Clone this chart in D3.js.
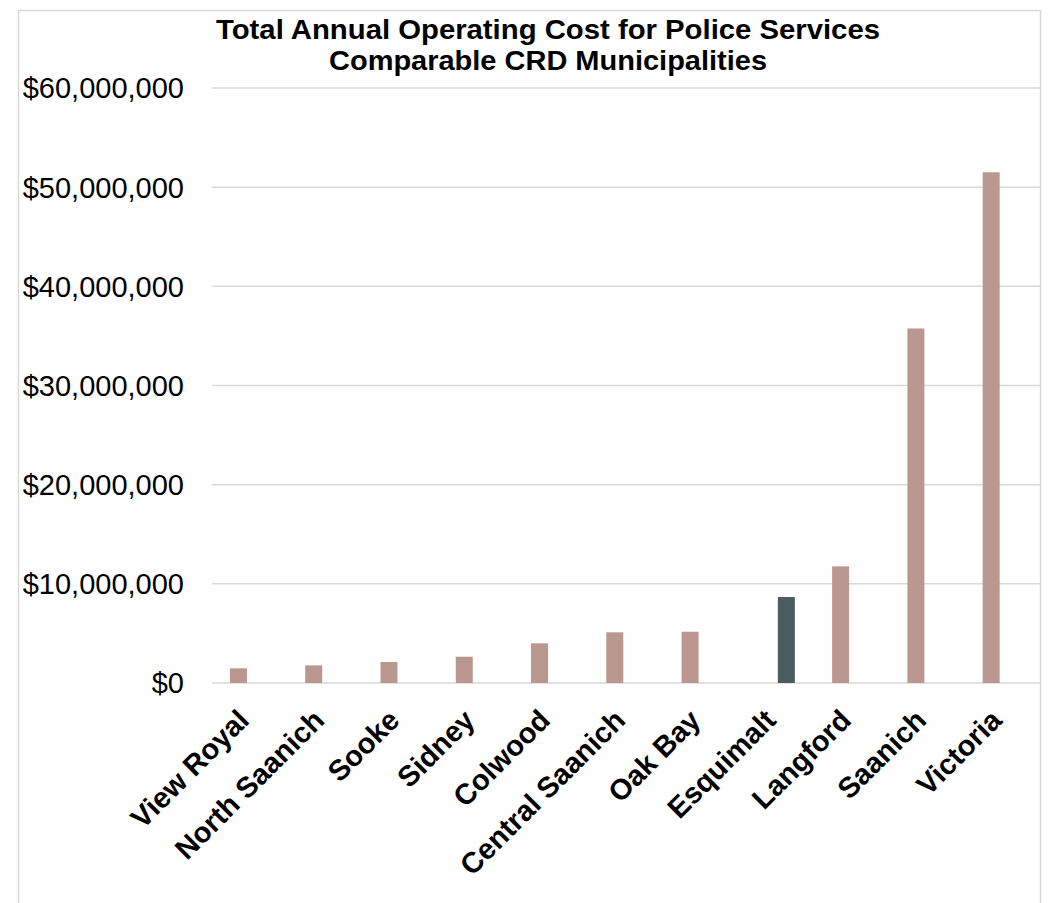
<!DOCTYPE html>
<html>
<head>
<meta charset="utf-8">
<script src="https://cdn.jsdelivr.net/npm/d3@7"></script>
<style>
  html, body { margin: 0; padding: 0; background: #fff; }
  svg { display: block; font-family: "Liberation Sans", Arial, sans-serif; }
</style>
</head>
<body>
<svg id="chart" width="1053" height="903"></svg>
<script>
// Police operating cost by municipality
const municipalities = ['View Royal', 'North Saanich', 'Sooke', 'Sidney', 'Colwood',
  'Central Saanich', 'Oak Bay', 'Esquimalt', 'Langford', 'Saanich', 'Victoria'];
// main series (Esquimalt is shown in its own series)
const otherCost = [1480000, 1780000, 2120000, 2650000, 4000000,
  5110000, 5170000, null, 11760000, 35750000, 51500000];
const esquimaltCost = [null, null, null, null, null,
  null, null, 8670000, null, null, null];
const yTicks = [0, 10000000, 20000000, 30000000, 40000000, 50000000, 60000000];
const titleLines = ['Total Annual Operating Cost for Police Services', 'Comparable CRD Municipalities'];

const svg = d3.select('#chart');

// Layout
const plot = { left: 212, right: 1040, top: 88, bottom: 683 };

// outer frame
svg.append('rect')
  .attr('x', 18.5).attr('y', 10.5)
  .attr('width', 1022).attr('height', 920)
  .attr('fill', 'none')
  .attr('stroke', '#d9d9d9')
  .attr('stroke-width', 1.5);

const x0 = d3.scaleBand()
  .domain(municipalities)
  .range([plot.left, plot.right])
  .padding(0);

const series = ['other', 'esquimalt'];
const x1 = d3.scaleBand()
  .domain(series)
  .range([x0.bandwidth() / 2 - 19.7, x0.bandwidth() / 2 + 18.3])
  .paddingInner(4 / 21);

const y = d3.scaleLinear()
  .domain([0, 60000000])
  .range([plot.bottom, plot.top]);

// gridlines
svg.append('g')
  .selectAll('line')
  .data(yTicks)
  .join('line')
  .attr('x1', plot.left).attr('x2', plot.right)
  .attr('y1', d => y(d)).attr('y2', d => y(d))
  .attr('stroke', '#d9d9d9')
  .attr('stroke-width', 1.5);

// y labels
const fmt = d3.format('$,');
svg.append('g')
  .selectAll('text')
  .data(yTicks)
  .join('text')
  .attr('x', 184)
  .attr('y', d => y(d))
  .attr('dy', '0.36em')
  .attr('text-anchor', 'end')
  .attr('font-size', 29)
  .attr('fill', '#000')
  .text(d => fmt(d));

// bars
const colors = { other: '#ba9890', esquimalt: '#4a5c5f' };
const rows = [];
municipalities.forEach((m, i) => {
  if (otherCost[i] != null) rows.push({ m, s: 'other', v: otherCost[i] });
  if (esquimaltCost[i] != null) rows.push({ m, s: 'esquimalt', v: esquimaltCost[i] });
});

svg.append('g')
  .selectAll('rect')
  .data(rows)
  .join('rect')
  .attr('x', d => x0(d.m) + x1(d.s))
  .attr('width', x1.bandwidth())
  .attr('y', d => y(d.v))
  .attr('height', d => y(0) - y(d.v))
  .attr('fill', d => colors[d.s]);

// category labels, rotated -45
svg.append('g')
  .selectAll('text')
  .data(municipalities)
  .join('text')
  .attr('transform', d => `translate(${x0(d) + x0.bandwidth() / 2 + 1},${plot.bottom + 39}) rotate(-45)`)
  .attr('text-anchor', 'end')
  .attr('font-size', 29)
  .attr('font-weight', 'bold')
  .attr('fill', '#000')
  .text(d => d);

// title (condensed like the original)
const tl = [664, 438];
svg.append('g')
  .selectAll('text')
  .data(titleLines)
  .join('text')
  .attr('x', (d, i) => 548 - tl[i] / 2)
  .attr('y', (d, i) => 39 + i * 31)
  .attr('font-size', 27)
  .attr('font-weight', 'bold')
  .attr('textLength', (d, i) => tl[i])
  .attr('lengthAdjust', 'spacingAndGlyphs')
  .attr('fill', '#000')
  .text(d => d);
</script>
</body>
</html>
